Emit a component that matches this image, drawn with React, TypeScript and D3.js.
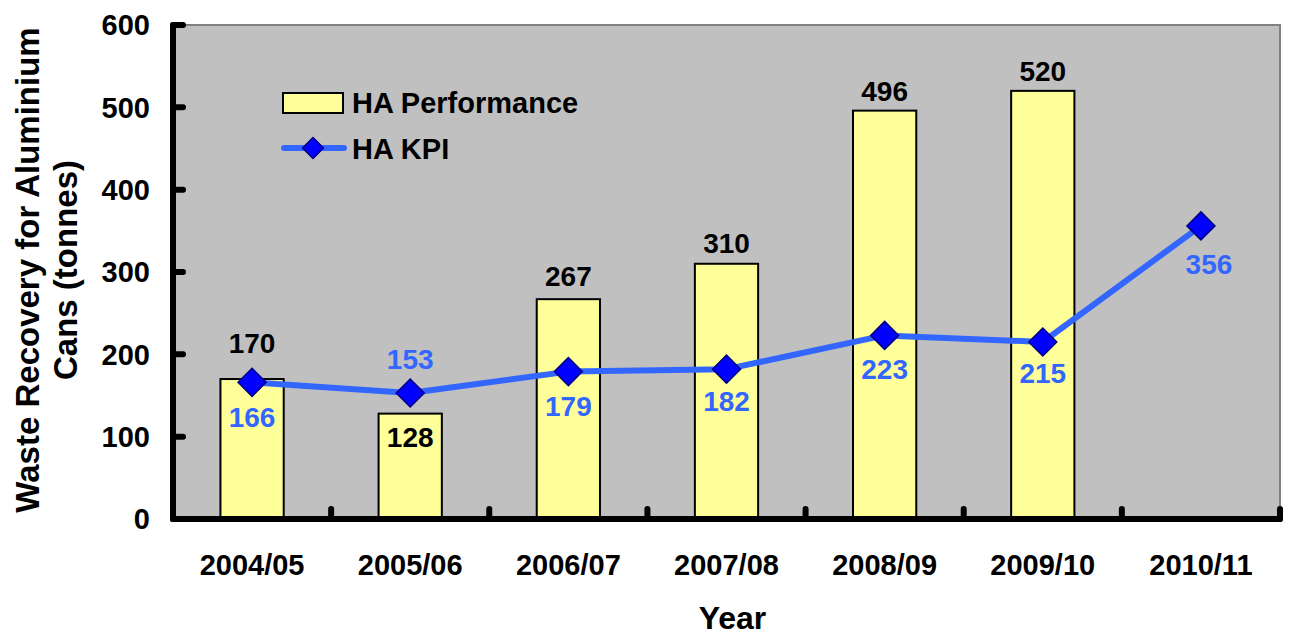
import * as d3 from 'd3'

const years = ['2004/05', '2005/06', '2006/07', '2007/08', '2008/09', '2009/10', '2010/11']
const performance = [170, 128, 267, 310, 496, 520]
const kpi = [166, 153, 179, 182, 223, 215, 356]
const yTicks = [0, 100, 200, 300, 400, 500, 600]

// label nudges, as placed by hand in the original
const barLabelDy = [-36, 23, -23, -21, -20, -20]
const kpiLabelDy = [35, -34, 34, 32, 34, 31, 38]
const kpiLabelDx = [0, 0, 0, 0, 0, 0, 8]

const W = 1289
const H = 637
const left = 173, right = 1280, top = 25, bottom = 519
const font = '"Liberation Sans", Arial, sans-serif'

export default function App() {
  const x = d3.scaleBand<string>().domain(years).range([left, right])
  const y = d3.scaleLinear().domain([0, 600]).range([bottom, top])
  const bw = x.bandwidth() * 0.4
  const cx = (i: number) => (x(years[i]) ?? 0) + x.bandwidth() / 2

  const line = d3.line<number>()
    .x((_, i) => cx(i))
    .y((d) => y(d))

  const diamond = (r: number) => `M0,${-r}L${r},0L0,${r}L${-r},0Z`

  return (
    <div style={{ position: 'fixed', left: 0, top: 0 }}>
      <svg width={W} height={H} style={{ display: 'block', fontFamily: font, fontWeight: 'bold' }}>
        <rect width={W} height={H} fill="#fff" />
        {/* plot area */}
        <rect x={left} y={top} width={right - left} height={bottom - top} fill="#c0c0c0" stroke="#808080" strokeWidth={2} />

        {/* bars */}
        {performance.map((v, i) => (
          <rect key={'b' + i} x={cx(i) - bw / 2} y={y(v)} width={bw} height={bottom - y(v)}
            fill="#ffff99" stroke="#000" strokeWidth={2} />
        ))}

        {/* axes */}
        <g stroke="#000" strokeWidth={6} strokeLinecap="round" fill="none">
          <line x1={left} y1={top} x2={left} y2={bottom} />
          <line x1={left} y1={bottom} x2={right} y2={bottom} />
          {yTicks.map((t) => (
            <line key={'yt' + t} x1={left} x2={left + 10} y1={y(t)} y2={y(t)} />
          ))}
          {years.map((yr, i) => (
            <line key={'xt' + i} x1={x(yr)} x2={x(yr)} y1={bottom} y2={bottom - 10} />
          ))}
          <line x1={right} x2={right} y1={bottom} y2={bottom - 10} />
        </g>

        {/* KPI line */}
        <path d={line(kpi) ?? ''} fill="none" stroke="#3366ff" strokeWidth={6} strokeLinejoin="round" />
        {kpi.map((v, i) => (
          <path key={'m' + i} d={diamond(14)} transform={`translate(${cx(i)},${y(v)})`}
            fill="#0000ff" stroke="#000080" strokeWidth={1.5} />
        ))}

        {/* data labels */}
        {performance.map((v, i) => (
          <text key={'bl' + i} x={cx(i)} y={y(v) + barLabelDy[i]} dy="0.36em" textAnchor="middle"
            fontSize={28} fill="#000">{v}</text>
        ))}
        {kpi.map((v, i) => (
          <text key={'kl' + i} x={cx(i) + kpiLabelDx[i]} y={y(v) + kpiLabelDy[i]} dy="0.36em" textAnchor="middle"
            fontSize={28} fill="#3366ff">{v}</text>
        ))}

        {/* y tick labels */}
        {yTicks.map((t) => (
          <text key={'yl' + t} x={150} y={y(t)} dy="0.36em" textAnchor="end" fontSize={29}>{t}</text>
        ))}
        {/* x tick labels */}
        {years.map((yr, i) => (
          <text key={'xl' + i} x={cx(i)} y={575} textAnchor="middle" fontSize={29}>{yr}</text>
        ))}

        {/* axis titles */}
        <text x={(left + right) / 2 + 6} y={629} textAnchor="middle" fontSize={32}>Year</text>
        <g transform="translate(27,270) rotate(-90)">
          <text textAnchor="middle" dy="0.36em" fontSize={33}>Waste Recovery for Aluminium</text>
        </g>
        <g transform="translate(65,270) rotate(-90)">
          <text textAnchor="middle" dy="0.36em" fontSize={33}>Cans (tonnes)</text>
        </g>

        {/* legend */}
        <rect x={283} y={93} width={60} height={20} fill="#ffff99" stroke="#000" strokeWidth={2} />
        <text x={352} y={113} fontSize={29}>HA Performance</text>
        <line x1={284} x2={344} y1={148} y2={148} stroke="#3366ff" strokeWidth={6} strokeLinecap="round" />
        <path d={diamond(10.5)} transform="translate(313,148)" fill="#0000ff" stroke="#000080" strokeWidth={1.5} />
        <text x={352} y={159} fontSize={29}>HA KPI</text>
      </svg>
    </div>
  )
}
